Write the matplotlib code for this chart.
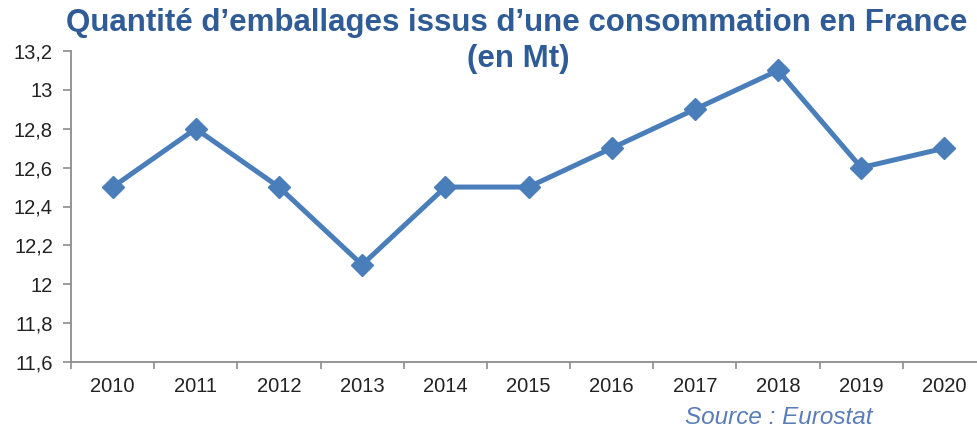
import matplotlib
matplotlib.use("Agg")
import matplotlib.pyplot as plt
from matplotlib.ticker import FuncFormatter

years = ["2010", "2011", "2012", "2013", "2014", "2015", "2016", "2017", "2018", "2019", "2020"]
values = [12.5, 12.8, 12.5, 12.1, 12.5, 12.5, 12.7, 12.9, 13.1, 12.6, 12.7]
yticks = [11.6, 11.8, 12.0, 12.2, 12.4, 12.6, 12.8, 13.0, 13.2]

plt.rcParams['font.family'] = ['Liberation Sans', 'DejaVu Sans']

W, H = 977, 430
fig = plt.figure(figsize=(W/100, H/100), dpi=100)
ax = fig.add_axes([71/W, 1-362/H, (986-71)/W, (362-51)/H])

x = list(range(len(years)))
ax.plot(x, values, color='#4A7EBB', lw=3.6, marker='D', ms=11, mfc='#4A7EBB', mec='#4A7EBB', clip_on=False)

ax.set_xlim(-0.5, len(years)-0.5)
ax.set_ylim(11.6, 13.2)
ax.set_yticks(yticks)
ax.yaxis.set_major_formatter(FuncFormatter(lambda v, p: (f"{v:.1f}".rstrip('0').rstrip('.')).replace('.', ',')))
ax.set_xticks([i + 0.5 for i in range(-1, len(years))])
ax.set_xticklabels([])
ax.set_xticks(x, minor=True)
ax.set_xticklabels(years, minor=True)
ax.tick_params(axis='x', which='minor', length=0, pad=11, labelsize=14.5, labelcolor='#222222')
ax.tick_params(axis='x', which='major', length=5, color='#8C8C8C', direction='out', width=1.2)
ax.tick_params(axis='y', length=6, width=1.2, color='#8C8C8C', labelsize=14.5, labelcolor='#222222', pad=7)

for s in ['top', 'right']:
    ax.spines[s].set_visible(False)
for s in ['left', 'bottom']:
    ax.spines[s].set_color('#8C8C8C')
    ax.spines[s].set_linewidth(1.3)

fig.text(517/W, 1-23/H, "Quantité d’emballages issus d’une consommation en France", ha='center', va='center',
         fontsize=22.5, fontweight='bold', color='#2F5B97')
fig.text(518/W, 1-59/H, "(en Mt)", ha='center', va='center',
         fontsize=22.5, fontweight='bold', color='#2F5B97')
fig.text(779/W, 1-418/H, "Source : Eurostat", ha='center', va='center',
         fontsize=17.5, style='italic', color='#5A7DB8')

fig.savefig("out.png", dpi=100)
